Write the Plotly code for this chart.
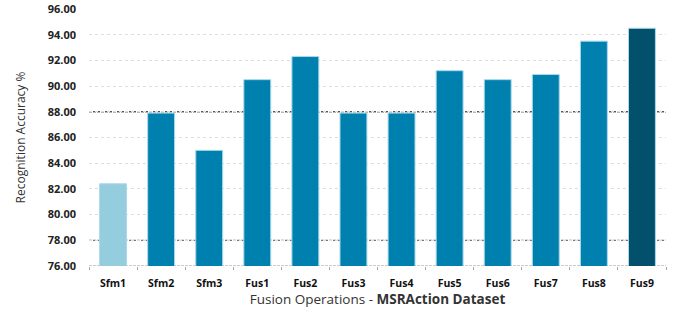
import plotly.graph_objects as go

categories = ["Sfm1", "Sfm2", "Sfm3", "Fus1", "Fus2", "Fus3", "Fus4", "Fus5", "Fus6", "Fus7", "Fus8", "Fus9"]
accuracy = [82.4, 87.9, 85.0, 90.5, 92.3, 87.9, 87.9, 91.2, 90.5, 90.9, 93.5, 94.5]
bar_colors = ["#93CDDE"] + ["#0080AE"] * 10 + ["#02506B"]
y_ticks = [76, 78, 80, 82, 84, 86, 88, 90, 92, 94, 96]
dark_grid_values = [88, 78, 76]
dark_grid_colors = ["#111111", "#555555", "#999999"]

fig = go.Figure()
fig.add_trace(go.Bar(
    x=categories, y=accuracy,
    marker=dict(color=bar_colors, line=dict(color="#A9D9EA", width=1)),
    width=0.56,
))

shapes = []
for v, c in zip(dark_grid_values, dark_grid_colors):
    shapes.append(dict(type="line", xref="paper", x0=0, x1=1, yref="y", y0=v, y1=v,
                       line=dict(color=c, width=1, dash="3px,1px"), layer="between"))

fig.update_layout(
    width=677, height=316,
    margin=dict(l=89, r=11, t=9, b=50),
    plot_bgcolor="white", paper_bgcolor="white",
    showlegend=False,
    shapes=shapes,
    font=dict(family="Open Sans", color="#222222"),
    xaxis=dict(
        automargin=False,
        title=dict(text="Fusion Operations - <b>MSRAction Dataset</b>",
                   font=dict(size=13.5, color="#333333"), standoff=6),
        tickfont=dict(size=10.5, family="Open Sans", color="#111111", weight="bold"),
        showline=False,
        ticks="outside", tickson="boundaries", ticklen=3, tickcolor="#aaaaaa",
        ticklabelstandoff=9,
        showgrid=False,
    ),
    yaxis=dict(
        automargin=False,
        title=dict(text="Recognition Accuracy %", font=dict(size=12, color="#333333"), standoff=19),
        range=[76, 96], tickvals=y_ticks, ticktext=[f"{v:.2f}" for v in y_ticks],
        tickfont=dict(size=11, family="Open Sans", color="#222222", weight="bold"),
        showgrid=True, gridcolor="#dddddd", griddash="dot", gridwidth=1,
        zeroline=False, ticks="", ticklabelstandoff=12,
    ),
)

fig.write_html("out.html", config={"displayModeBar": False},
               post_script="document.body.style.margin='0';")
